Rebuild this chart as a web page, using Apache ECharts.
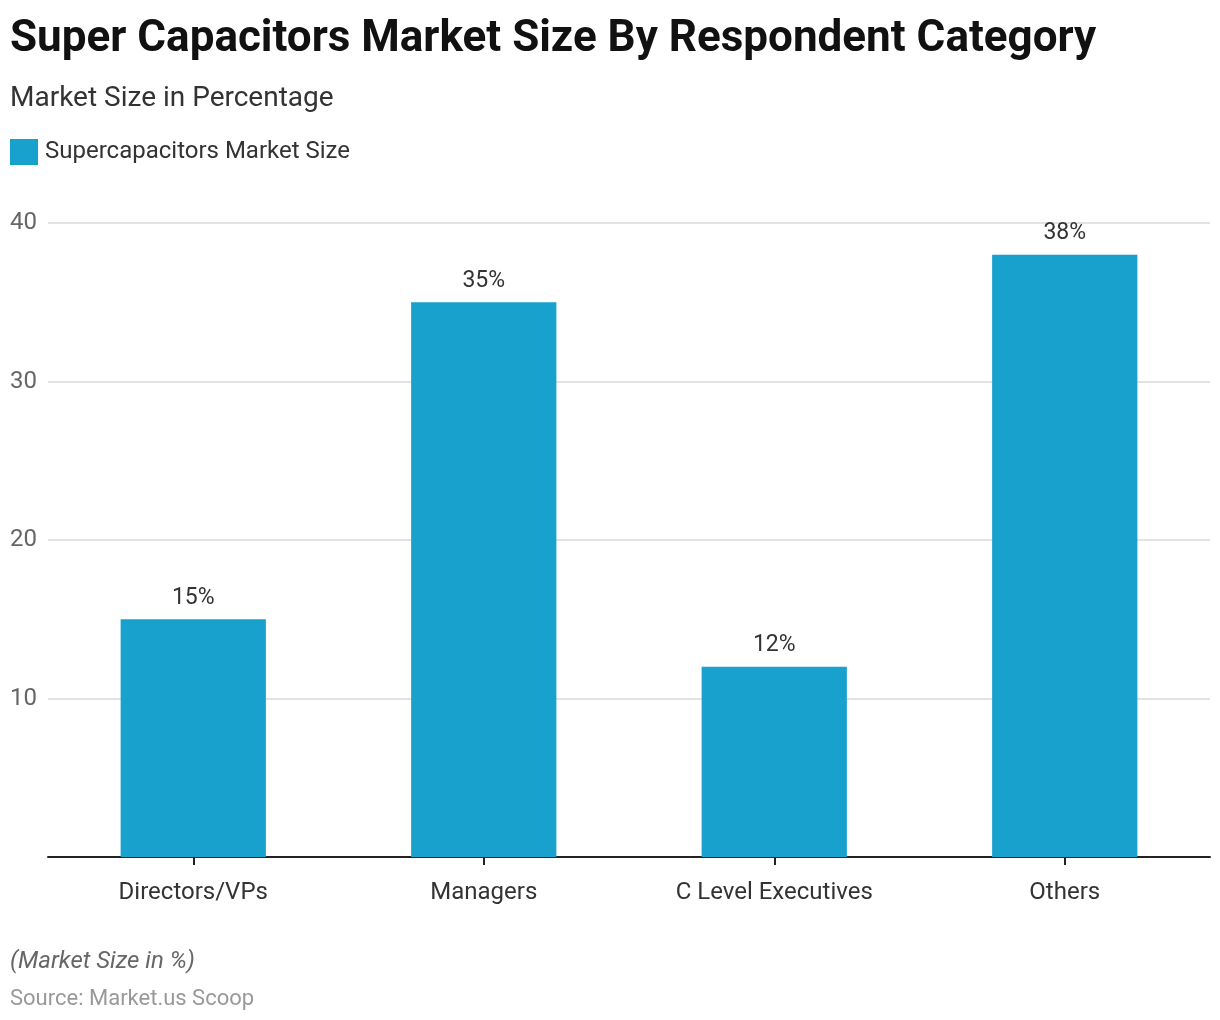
<!DOCTYPE html>
<html><head><meta charset="utf-8">
<script src="https://cdn.jsdelivr.net/npm/echarts@6/dist/echarts.min.js"></script>
<style>html,body{margin:0;padding:0;background:#fff}#c{width:1220px;height:1020px}</style>
</head><body><div id="c"></div>
<script>
const categories = ["Directors/VPs", "Managers", "C Level Executives", "Others"];
const values = [15, 35, 12, 38];
const yTicks = [10, 20, 30, 40];
const seriesName = "Supercapacitors Market Size";

const chart = echarts.init(document.getElementById('c'), null, {renderer: 'canvas'});
const F = 'Roboto, "Noto Sans", sans-serif';
chart.setOption({
  animation: false,
  backgroundColor: '#fff',
  title: [
    {text: 'Super Capacitors Market Size By Respondent Category', left: 10, top: 18, padding: 0,
     textStyle: {fontFamily: F, fontSize: 44, fontWeight: 'bold', color: '#111'}},
    {text: 'Market Size in Percentage', left: 10, top: 85, padding: 0,
     textStyle: {fontFamily: F, fontSize: 28, fontWeight: 'normal', color: '#333'}},
    {text: '(Market Size in %)', left: 10, top: 950, padding: 0,
     textStyle: {fontFamily: F, fontSize: 24, fontStyle: 'italic', fontWeight: 'normal', color: '#666'}},
    {text: 'Source: Market.us Scoop', left: 10, top: 988, padding: 0,
     textStyle: {fontFamily: F, fontSize: 22, fontWeight: 'normal', color: '#999'}}
  ],
  legend: {
    left: 10, top: 139, padding: 0, itemWidth: 28, itemHeight: 26, itemGap: 10, icon: 'rect',
    textStyle: {fontFamily: F, fontSize: 24, color: '#333', padding: [3, 0, 0, 2]},
    data: [seriesName]
  },
  grid: {left: 48, right: 10, top: 223, bottom: 163, containLabel: false},
  xAxis: {
    type: 'category', data: categories,
    axisLine: {lineStyle: {color: '#222', width: 2}},
    axisTick: {show: true, alignWithLabel: true, length: 8, lineStyle: {color: '#222', width: 2}},
    axisLabel: {fontFamily: F, fontSize: 24, color: '#333', margin: 24}
  },
  yAxis: {
    type: 'value', min: 0, max: 40, interval: 10,
    axisLine: {show: false}, axisTick: {show: false},
    splitLine: {lineStyle: {color: '#d9d9d9', width: 1.5}},
    axisLabel: {fontFamily: F, fontSize: 24, color: '#666', margin: 11,
      formatter: v => (yTicks.includes(v) ? String(v) : '')}
  },
  series: [{
    name: seriesName, type: 'bar', data: values, barWidth: '50%',
    itemStyle: {color: '#18a1cd'},
    label: {show: true, position: 'top', distance: 10, formatter: '{c}%',
      fontFamily: F, fontSize: 23, color: '#333'}
  }]
});
</script></body></html>
